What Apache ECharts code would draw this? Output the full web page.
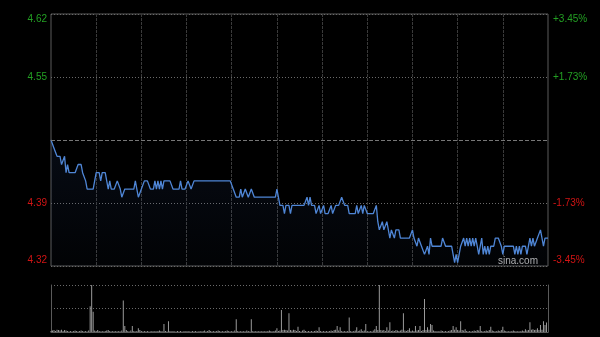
<!DOCTYPE html>
<html>
<head>
<meta charset="utf-8">
<script src="https://cdn.jsdelivr.net/npm/echarts@6/dist/echarts.min.js"></script>
<style>
html,body{margin:0;padding:0;background:#000;}
#chart{width:600px;height:337px;}
</style>
</head>
<body>
<div id="chart"></div>
<script>
// ---- data ----
const prevClose = 4.47;
const priceMin = 4.3158;
const priceMax = 4.6242;
const priceStep = 0.0771;
const leftLabels = ['4.32', '4.39', '', '4.55', '4.62'];
const rightLabels = ['-3.45%', '-1.73%', '', '+1.73%', '+3.45%'];
const sessions = [['09:30', '12:00'], ['13:01', '16:00']];

const prices = [
  4.47,4.47,4.46,4.46,4.45,4.45,4.45,4.44,4.44,4.45, 4.43,4.44,4.43,4.43,4.43,4.43,4.43,4.43,4.44,4.44, 4.44,4.43,4.43,4.42,4.41,4.41,4.41,4.41,4.41,4.42,
  4.43,4.43,4.43,4.42,4.43,4.43,4.43,4.42,4.41,4.42, 4.41,4.41,4.41,4.41,4.42,4.42,4.41,4.40,4.40,4.41, 4.41,4.41,4.41,4.41,4.41,4.41,4.42,4.41,4.40,4.40,
  4.41,4.41,4.42,4.42,4.42,4.42,4.41,4.41,4.41,4.42, 4.41,4.42,4.41,4.42,4.41,4.42,4.42,4.42,4.42,4.42, 4.42,4.41,4.41,4.41,4.41,4.41,4.42,4.41,4.41,4.41,
  4.41,4.42,4.42,4.41,4.41,4.42,4.42,4.42,4.42,4.42, 4.42,4.42,4.42,4.42,4.42,4.42,4.42,4.42,4.42,4.42, 4.42,4.42,4.42,4.42,4.42,4.42,4.42,4.42,4.42,4.42,
  4.42,4.41,4.41,4.40,4.40,4.40,4.41,4.40,4.40,4.41, 4.41,4.40,4.40,4.41,4.41,4.40,4.40,4.40,4.40,4.40, 4.40,4.40,4.40,4.40,4.40,4.40,4.40,4.40,4.40,4.40,
  4.41,4.40,4.39,4.39,4.39,4.38,4.39,4.39,4.39,4.38, 4.39,4.39,4.39,4.39,4.39,4.39,4.39,4.39,4.39,4.39, 4.40,4.39,4.40,4.39,4.39,4.39,4.38,4.38,4.39,4.38,
  4.38,4.39,4.38,4.38,4.38,4.38,4.39,4.38,4.38,4.39, 4.39,4.39,4.39,4.40,4.40,4.39,4.39,4.39,4.38,4.38, 4.38,4.38,4.38,4.39,4.38,4.38,4.39,4.38,4.39,4.39,
  4.38,4.38,4.38,4.38,4.38,4.38,4.39,4.37,4.36,4.36, 4.37,4.36,4.36,4.37,4.36,4.35,4.36,4.36,4.35,4.36, 4.36,4.36,4.35,4.35,4.35,4.35,4.35,4.35,4.35,4.35,
  4.36,4.35,4.35,4.34,4.35,4.35,4.34,4.34,4.33,4.33, 4.34,4.33,4.35,4.34,4.34,4.34,4.34,4.34,4.34,4.34, 4.35,4.35,4.34,4.34,4.34,4.34,4.34,4.33,4.32,4.33,
  4.32,4.33,4.34,4.34,4.35,4.34,4.35,4.34,4.35,4.34, 4.35,4.34,4.35,4.34,4.33,4.34,4.35,4.33,4.34,4.33, 4.34,4.33,4.34,4.34,4.34,4.35,4.35,4.35,4.35,4.34,
  4.33,4.34,4.34,4.34,4.34,4.34,4.34,4.34,4.33,4.34, 4.33,4.34,4.33,4.34,4.34,4.34,4.33,4.34,4.35,4.34, 4.35,4.34,4.34,4.35,4.35,4.36,4.36,4.34,4.35,4.35,
  4.35
];

const volumes = [
  2,3,4,2,5,4,3,5,2,4, 3,2,1,2,1,2,3,2,1,2, 3,2,1,2,1,3,55,100,43,3,
  2,4,2,1,2,1,2,3,4,2, 1,2,1,2,1,2,1,3,67,13, 4,2,1,3,13,2,1,2,8,4,
  2,1,2,1,2,1,1,2,1,2, 1,2,3,2,1,17,2,1,23,2, 1,2,1,1,2,1,2,1,1,2,
  1,2,1,1,2,1,2,1,1,2, 1,2,3,1,2,4,2,1,2,1, 2,3,2,1,2,1,2,3,2,1,
  2,1,3,27,2,1,2,1,2,1, 3,2,1,27,2,1,2,1,2,1, 2,1,2,1,2,3,2,1,2,3,
  8,2,3,47,4,5,4,3,40,4, 3,5,4,2,11,2,1,3,5,2, 1,2,1,2,1,2,3,2,10,2,
  1,2,1,2,1,2,3,2,4,5, 13,3,10,2,1,2,1,2,31,2, 1,2,3,10,2,3,6,2,3,17,
  2,1,2,1,3,6,13,4,100,4, 3,4,2,10,3,21,2,3,2,4, 3,2,3,5,40,3,2,4,8,2,
  3,2,13,3,4,13,2,4,70,4, 10,5,17,15,3,2,1,2,1,3, 2,1,2,1,2,3,4,13,5,10,
  4,3,23,4,3,6,2,1,2,1, 2,3,2,4,3,13,2,1,2,3, 2,4,11,3,2,1,2,3,2,4,
  11,3,2,1,2,1,2,3,2,1, 2,1,2,3,2,6,3,4,21,5, 6,4,5,8,4,15,5,23,15,20,
  0
];

// ---- minute categories ----
function buildTimes() {
  const out = [];
  sessions.forEach(([a, b]) => {
    let [h, m] = a.split(':').map(Number);
    const [eh, em] = b.split(':').map(Number);
    while (h < eh || (h === eh && m <= em)) {
      out.push(String(h).padStart(2, '0') + ':' + String(m).padStart(2, '0'));
      m++; if (m === 60) { m = 0; h++; }
    }
  });
  return out;
}
const times = buildTimes();

const GREEN = '#23a023';
const RED = '#d21414';
const FONT = 'Liberation Sans, Arial, sans-serif';
const richStyles = {
  g: { color: GREEN, fontSize: 10, fontFamily: FONT },
  gt: { color: GREEN, fontSize: 10, fontFamily: FONT, padding: [10, 0, 0, 0] },
  r: { color: RED, fontSize: 10, fontFamily: FONT },
  rb: { color: RED, fontSize: 10, fontFamily: FONT, padding: [0, 0, 12, 0] }
};
function fmt(arr) {
  return function (v, i) {
    const t = arr[i];
    if (!t) return '';
    const key = i === 0 ? 'rb' : i === 1 ? 'r' : i === 3 ? 'g' : 'gt';
    return '{' + key + '|' + t + '}';
  };
}

const chart = echarts.init(document.getElementById('chart'), null, { renderer: 'canvas' });
chart.setOption({
  backgroundColor: '#000',
  animation: false,
  grid: [
    { left: 51, top: 14, width: 497, height: 252, show: true, borderColor: '#5a5a5a', borderWidth: 1, backgroundColor: 'transparent' },
    { left: 51, top: 285, width: 497, height: 47, show: false }
  ],
  xAxis: [
    {
      type: 'category', gridIndex: 0, data: times, boundaryGap: false,
      axisLine: { show: false }, axisTick: { show: false }, axisLabel: { show: false },
      splitLine: {
        show: true,
        interval: function (idx) { return idx % 30 === 0 && idx !== 0 && idx !== times.length - 1; },
        lineStyle: { color: '#3a3a3a', type: [3, 1], width: 1 }
      }
    },
    {
      type: 'category', gridIndex: 1, data: times, boundaryGap: false,
      axisLine: { show: true, lineStyle: { color: '#5a5a5a' } }, axisTick: { show: false }, axisLabel: { show: false },
      splitLine: { show: false }
    }
  ],
  yAxis: [
    {
      type: 'value', gridIndex: 0, min: priceMin, max: priceMax, interval: priceStep, scale: true,
      axisLine: { show: false }, axisTick: { show: false },
      axisLabel: { show: true, margin: 4, showMinLabel: true, showMaxLabel: true, formatter: fmt(leftLabels), rich: richStyles },
      splitLine: { show: true, lineStyle: { color: '#6a6a6a', type: [1, 2], width: 1 } }
    },
    {
      type: 'value', gridIndex: 0, position: 'right', min: priceMin, max: priceMax, interval: priceStep, scale: true,
      axisLine: { show: false }, axisTick: { show: false },
      axisLabel: { show: true, margin: 5, showMinLabel: true, showMaxLabel: true, formatter: fmt(rightLabels), rich: richStyles },
      splitLine: { show: false }
    },
    {
      type: 'value', gridIndex: 1, min: 0, max: 100, interval: 50,
      axisLine: { show: true, lineStyle: { color: '#5a5a5a' } }, axisTick: { show: false }, axisLabel: { show: false },
      splitLine: { show: true, lineStyle: { color: '#6a6a6a', type: [1, 2], width: 1 } }
    },
    {
      type: 'value', gridIndex: 1, position: 'right', min: 0, max: 100, interval: 50,
      axisLine: { show: true, lineStyle: { color: '#5a5a5a' } }, axisTick: { show: false }, axisLabel: { show: false },
      splitLine: { show: false }
    }
  ],
  series: [
    {
      type: 'line', xAxisIndex: 0, yAxisIndex: 0, data: prices,
      symbol: 'none', smooth: false,
      lineStyle: { color: '#4f86d6', width: 1.3 },
      areaStyle: {
        color: new echarts.graphic.LinearGradient(0, 0, 0, 1, [
          { offset: 0, color: 'rgba(60,100,180,0.16)' },
          { offset: 1, color: 'rgba(60,100,180,0.04)' }
        ])
      },
      markLine: {
        silent: true, symbol: 'none', label: { show: false },
        lineStyle: { color: '#777', type: [4, 2], width: 1 },
        data: [{ yAxis: prevClose }]
      },
      z: 3
    },
    {
      type: 'bar', xAxisIndex: 1, yAxisIndex: 2, data: volumes,
      barWidth: 1, itemStyle: { color: '#9a9a9a' }
    }
  ],
  graphic: [
    {
      type: 'text', left: 498, top: 256, silent: true,
      style: { text: 'sina.com', fill: '#b0b0b0', font: '10px Liberation Sans, Arial, sans-serif' }
    }
  ]
});
</script>
</body>
</html>
